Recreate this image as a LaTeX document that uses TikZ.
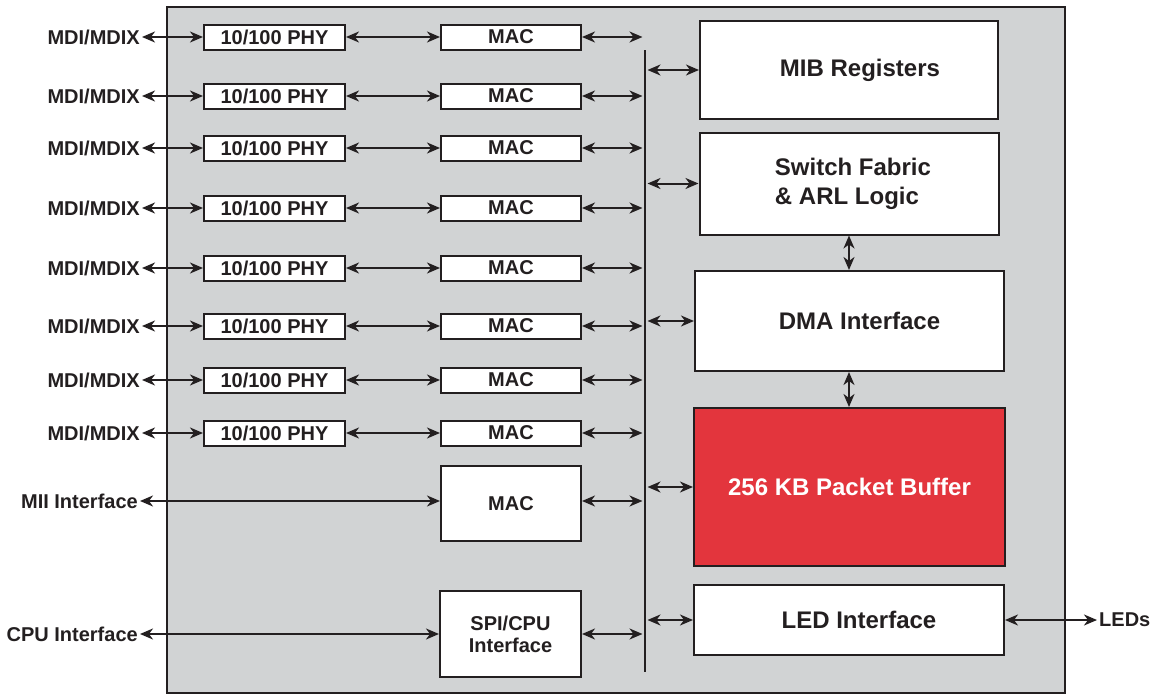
\documentclass[tikz,border=0pt]{standalone}
\usepackage{fontspec}
\setmainfont{Liberation Sans}
\usetikzlibrary{arrows.meta,positioning}
\definecolor{chipgray}{HTML}{D1D3D4}
\definecolor{bufred}{HTML}{E3353D}
\definecolor{ink}{HTML}{231F20}

\begin{document}
\begin{tikzpicture}[x=1pt, y=-1pt,
    every node/.style={font=\fontsize{20}{22}\selectfont\bfseries, text=ink},
    blk/.style={draw=ink, fill=white, line width=2pt, inner sep=0pt, minimum width=141pt, minimum height=25pt},
    bigblk/.style={blk, font=\fontsize{24}{29}\selectfont\bfseries, align=center},
    lbl/.style={inner sep=2pt, anchor=east},
    bi/.style={<->, >={Stealth[length=13pt,width=11pt,inset=4pt]}, line width=2pt, draw=ink}]
    \useasboundingbox (0,0) rectangle (1154,696);

    % Chip
    \draw[fill=chipgray, draw=ink, line width=2pt] (167,7) rectangle (1065,693);
    \coordinate (bustop) at (645,50);
    \coordinate (busbot) at (645,672);
    \draw[draw=ink, line width=2pt] (bustop) -- (busbot);

    % Puertos PHY/MAC
    \foreach \y [count=\i] in {37,96,148,208,268,326,380,433} {
        \node[lbl] (mdi\i) at (142,\y) {MDI/MDIX};
        \node[blk] (phy\i) at (274.5,\y) {10/100 PHY};
        \node[blk, minimum width=140pt] (mac\i) at (511,\y) {MAC};
        \draw[bi] (mdi\i.east) -- (phy\i.west);
        \draw[bi] (phy\i.east) -- (mac\i.west);
        \draw[bi, shorten >=2.5pt] (mac\i.east) -- (mac\i.east -| bustop);
    }

    % MII y CPU
    \node[blk, minimum width=140pt, minimum height=75pt] (macx) at (511,503.5) {MAC};
    \node[blk, minimum height=86pt, align=center] (spi) at (510.5,634) {SPI/CPU\\Interface};
    \node[lbl] (mii) at (140,501) {MII Interface};
    \node[lbl] (cpu) at (140,634) {CPU Interface};
    \draw[bi] (mii.east) -- (mii.east -| macx.west);
    \draw[bi] (cpu.east) -- (spi.west);
    \draw[bi, shorten >=2.5pt] (macx.east |- mii.east) -- (mii.east -| bustop);
    \draw[bi, shorten >=2.5pt] (spi.east) -- (spi.east -| bustop);

    % Bloques de la derecha
    \node[bigblk, minimum width=298pt, minimum height=98pt] (mib) at (849,70) {\hspace*{22pt}MIB Registers};
    \node[bigblk, align=left, minimum width=299pt, minimum height=102pt] (fabric) at (849,183.5) {\hspace*{8pt}Switch Fabric\\\hspace*{8pt}\& ARL Logic};
    \node[bigblk, minimum width=309pt, minimum height=100pt] (dma) at (849.5,321) {\hspace*{20pt}DMA Interface};
    \node[bigblk, fill=bufred, text=white, minimum width=311pt, minimum height=158pt] (buf) at (849.5,487) {256 KB Packet Buffer};
    \node[bigblk, minimum width=310pt, minimum height=70pt] (led) at (849,620) {\hspace*{20pt}LED Interface};
    \node[lbl, anchor=west] (leds) at (1097,620) {LEDs};

    \draw[bi, shorten <=2.5pt] (mib.west -| bustop) -- (mib.west);
    \draw[bi, shorten <=2.5pt] (fabric.west -| bustop) -- (fabric.west);
    \draw[bi, shorten <=2.5pt] (dma.west -| bustop) -- (dma.west);
    \draw[bi, shorten <=2.5pt] (buf.west -| bustop) -- (buf.west);
    \draw[bi, shorten <=2.5pt] (led.west -| bustop) -- (led.west);
    \draw[bi] (fabric.south) -- (fabric.south |- dma.north);
    \draw[bi] (dma.south -| fabric.south) -- (fabric.south |- buf.north);
    \draw[bi] (led.east) -- (leds.west);
\end{tikzpicture}
\end{document}
